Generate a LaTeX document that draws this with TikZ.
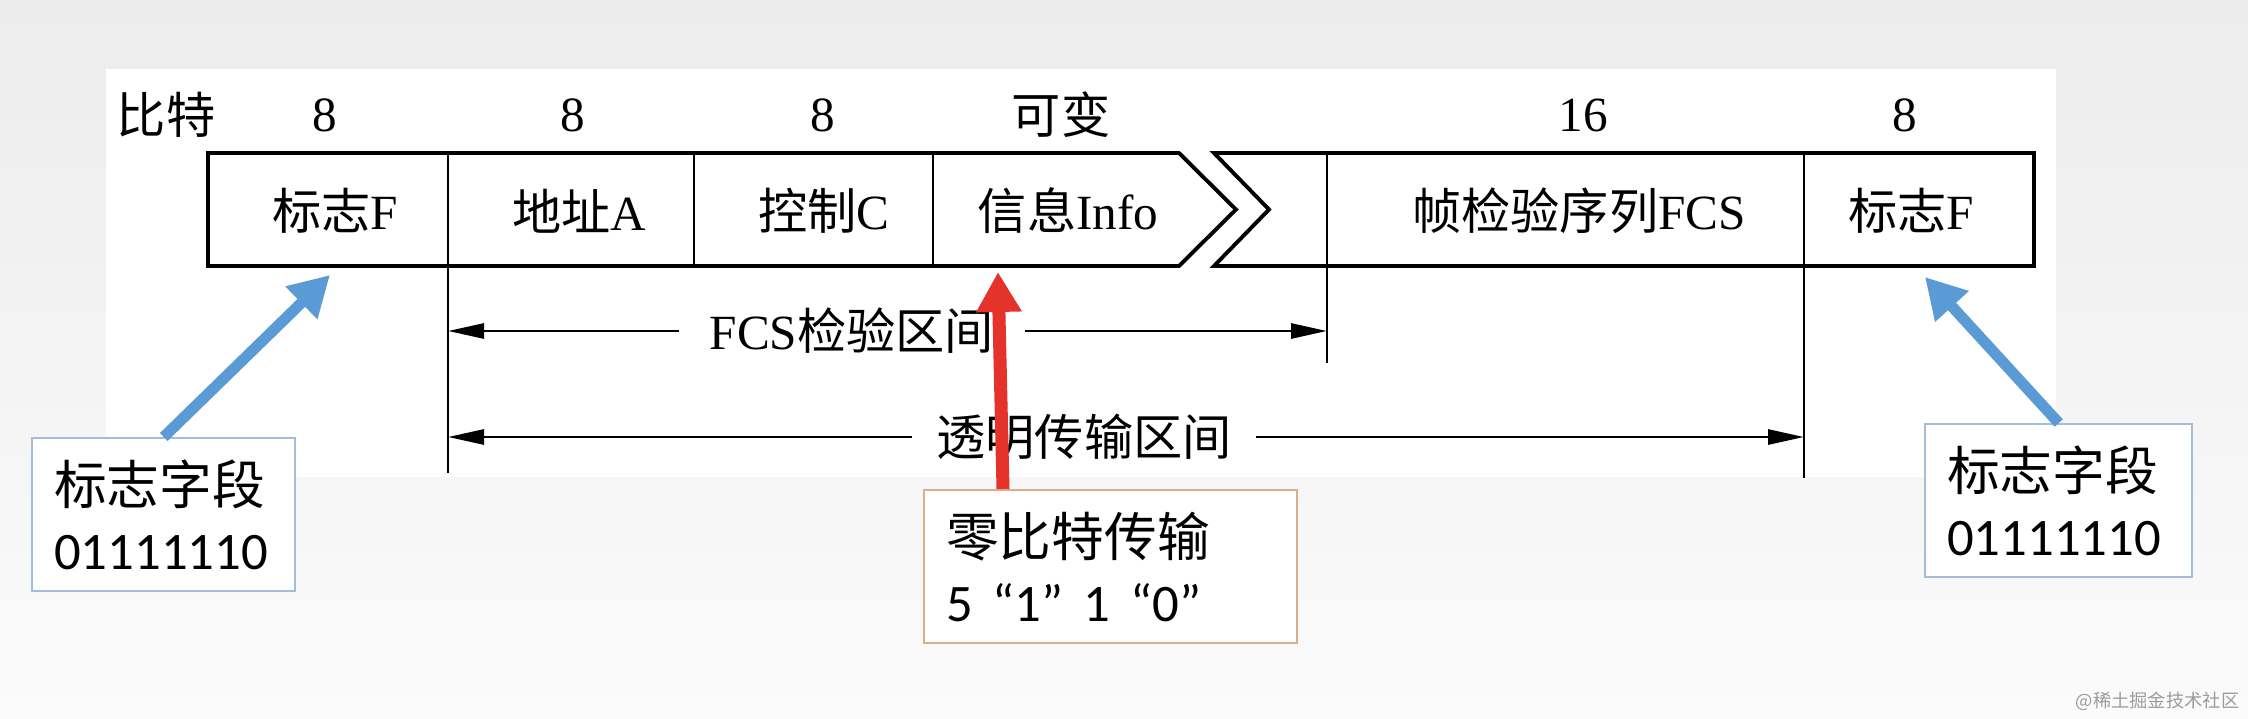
\documentclass[tikz,border=0pt]{standalone}
\usepackage{fontspec}
\setmainfont{Liberation Serif}
\newfontfamily\zhfont{Noto Sans CJK SC}
\newfontfamily\boxfont{Carlito}
\usetikzlibrary{arrows.meta}
\definecolor{flagblue}{HTML}{5B9BD5}
\definecolor{zerored}{HTML}{E5322A}
\definecolor{boxblue}{HTML}{A3BDD8}
\definecolor{boxtan}{HTML}{D8B18C}
\definecolor{bgtop}{HTML}{ECECEC}
\definecolor{bgbot}{HTML}{FBFBFB}
\definecolor{markgray}{HTML}{9C9C9C}

\begin{document}
\begin{tikzpicture}[
  lbl/.style={font=\fontsize{14}{17}\selectfont, inner sep=0pt},
  span/.style={-{Triangle[length=0.36cm,width=0.15cm]}, line width=0.8pt},
  note/.style={draw, line width=0.7pt, fill=white, align=left, anchor=north west,
    font=\zhfont\fontsize{15}{18.5}\selectfont, inner xsep=0.22cm, inner ysep=0pt,
    minimum height=1.53cm},
  callout/.style={-{Triangle[length=0.4cm,width=0.43cm]}, line width=0.11cm}
]
\useasboundingbox (0,0) rectangle (22.48,7.18);
\fill[top color=bgtop, bottom color=bgbot] (0,0) rectangle (22.48,7.18);
\fill[white] (1.06,2.41) rectangle (20.56,6.49);

\node[lbl] (bitsLbl) at (1.66,6.03) {\zhfont 比特};
\node[lbl] (wF1) at (3.25,6.03) {8};
\node[lbl] (wA) at (5.73,6.03) {8};
\node[lbl] (wC) at (8.23,6.03) {8};
\node[lbl] (wInfo) at (10.61,6.03) {\zhfont 可变};
\node[lbl] (wFCS) at (15.83,6.03) {16};
\node[lbl] (wF2) at (19.05,6.03) {8};

\draw[line width=1.1pt] (11.79,5.65) -- (2.08,5.65) -- (2.08,4.52) -- (11.79,4.52) -- (12.36,5.085) -- cycle;
\draw[line width=1.1pt] (12.14,5.65) -- (20.34,5.65) -- (20.34,4.52) -- (12.14,4.52) -- (12.69,5.085) -- cycle;

\foreach \x in {6.94,9.33}
  \draw[line width=0.6pt] (\x,5.65) -- (\x,4.52);
\draw[line width=0.6pt] (4.48,5.65) -- (4.48,2.45);
\draw[line width=0.6pt] (13.27,5.65) -- (13.27,3.55);
\draw[line width=0.6pt] (18.04,5.65) -- (18.04,2.40);

\node[lbl] (flagF1) at (3.35,5.07) {{\zhfont 标志}F};
\node[lbl] (addrA) at (5.79,5.07) {{\zhfont 地址}A};
\node[lbl] (ctrlC) at (8.24,5.07) {{\zhfont 控制}C};
\node[lbl] (infoI) at (10.68,5.07) {{\zhfont 信息}Info};
\node[lbl] (fcsF) at (15.79,5.07) {{\zhfont 帧检验序列}FCS};
\node[lbl] (flagF2) at (19.11,5.07) {{\zhfont 标志}F};

\coordinate (fcsL) at (4.48,3.87);
\coordinate (fcsR) at (13.27,3.87);
\node[lbl, inner xsep=0.3cm] (fcsSpan) at (8.52,3.87) {FCS{\zhfont 检验区间}};
\draw[span] (fcsSpan.west) -- (fcsL);
\draw[span] (fcsSpan.east) -- (fcsR);

\coordinate (transL) at (4.48,2.81);
\coordinate (transR) at (18.04,2.81);
\node[lbl, inner xsep=0.24cm] (transSpan) at (10.84,2.81) {\zhfont 透明传输区间};
\draw[span] (transSpan.west) -- (transL);
\draw[span] (transSpan.east) -- (transR);

\node[note, draw=boxblue, text width=2.19cm] (flagNoteL) at (0.31,2.81)
  {标志字段\\{\boxfont 01111110}};
\node[note, draw=boxblue, text width=2.23cm] (flagNoteR) at (19.24,2.95)
  {标志字段\\{\boxfont 01111110}};
\node[note, draw=boxtan, text width=3.29cm] (zeroNote) at (9.23,2.29)
  {零比特传输\\{\boxfont 5\hspace{2mm}“1”\hspace{2mm}1\hspace{2mm}“0”}};

\coordinate (tipL) at (3.30,4.43);
\coordinate (tipR) at (19.25,4.41);
\coordinate (tipZ) at (9.98,4.46);
\draw[callout, flagblue] (flagNoteL.north) -- (tipL);
\draw[callout, flagblue] (flagNoteR.north) -- (tipR);
\draw[callout, zerored, line width=0.13cm] ([xshift=0.8cm]zeroNote.north west) -- (tipZ);

\node[font=\zhfont\fontsize{5.2}{6}\selectfont, text=markgray, inner sep=0pt, anchor=east] (mark) at (22.40,0.17) {@稀土掘金技术社区};
\end{tikzpicture}
\end{document}
